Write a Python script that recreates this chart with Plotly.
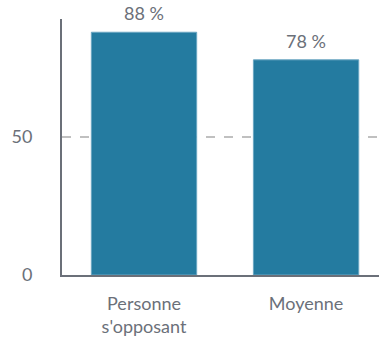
import plotly.graph_objects as go

categories = ["Personne<br>s'opposant", "Moyenne"]
values = [88, 78]
value_labels = ["88\u202f%", "78\u202f%"]
y_ticks = [0, 50]

grey = "#6b7079"
font_family = "Lato"

fig = go.Figure(
    go.Bar(
        x=categories,
        y=values,
        width=0.65,
        marker=dict(color="#247ba0", line=dict(color="#6aa6c2", width=1)),
        hoverinfo="skip",
    )
)

# value labels above each bar
for cat, val, label in zip(categories, values, value_labels):
    fig.add_annotation(
        x=cat,
        y=val,
        text=label,
        showarrow=False,
        yanchor="bottom",
        yshift=6,
        font=dict(family=font_family, size=18, color=grey),
    )

fig.update_layout(
    width=379,
    height=340,
    margin=dict(l=62, r=0, t=19, b=65),
    paper_bgcolor="white",
    plot_bgcolor="white",
    showlegend=False,
    font=dict(family=font_family, size=18, color=grey),
)

fig.update_xaxes(
    range=[-0.506, 1.45],
    showline=True,
    linecolor=grey,
    linewidth=2,
    showgrid=False,
    ticks="",
    ticklabelstandoff=11,
    tickfont=dict(family=font_family, size=18, color=grey),
)

fig.update_yaxes(
    range=[0, 92.8],
    tickvals=y_ticks,
    showline=True,
    linecolor=grey,
    linewidth=2,
    showgrid=True,
    gridcolor="#c0c0c0",
    gridwidth=2,
    griddash="dash",
    zeroline=False,
    ticks="",
    ticklabelstandoff=24,
    tickfont=dict(family=font_family, size=18, color=grey),
)

fig.write_html("out.html")
